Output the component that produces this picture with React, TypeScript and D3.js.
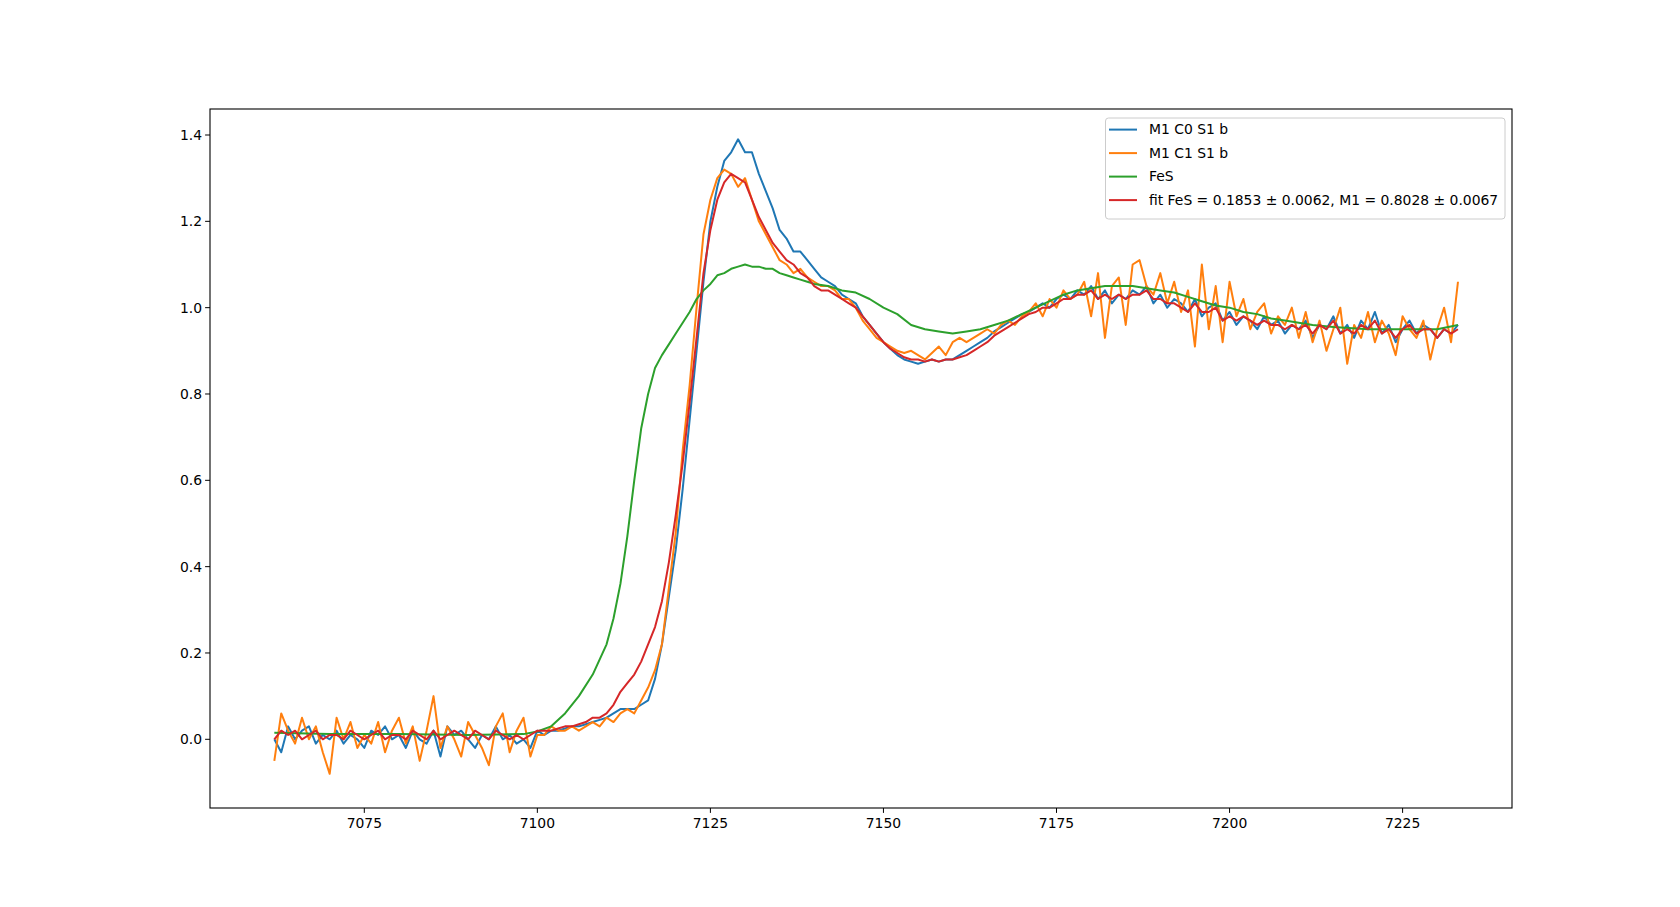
import * as d3 from "d3";
import React from "react";

const E0 = 7062;

const blue = [
  0.00,-0.03,0.03,0.00,0.02,0.03,-0.01,0.01,0.00,0.02,-0.01,0.01,0.00,-0.02,0.02,0.01,0.03,0.00,0.01,-0.02,
  0.02,0.00,-0.01,0.02,-0.04,0.03,0.01,0.02,0.00,-0.02,0.01,0.00,0.03,0.00,0.01,-0.01,0.00,-0.02,0.02,
  0.01,0.02,0.02,0.025,0.03,0.03,0.035,0.04,0.045,0.05,0.06,0.07,0.07,0.07,0.08,0.09,
  0.14,0.22,0.33,0.44,0.58,0.74,0.9,1.06,1.2,1.28,1.34,1.36,1.39,1.36,1.36,1.31,1.27,1.23,1.18,1.16,
  1.13,1.13,1.11,1.09,1.07,1.06,1.05,1.03,1.02,1.01,0.98,0.96,0.94,0.92,0.905,0.89,0.88,0.875,0.87,0.875,
  0.88,0.875,0.88,0.88,0.89,0.9,0.91,0.92,0.93,0.945,0.955,0.965,0.975,0.985,
  0.99,1.00,1.01,1.00,1.02,1.03,1.02,1.04,1.03,1.05,1.02,1.04,1.01,1.03,1.02,1.04,1.03,1.05,1.01,1.03,
  1.00,1.02,1.01,0.99,1.02,0.98,1.00,1.01,0.97,0.99,0.96,0.98,0.97,0.95,0.98,0.96,0.97,0.94,0.96,0.95,
  0.97,0.93,0.96,0.95,0.98,0.94,0.96,0.93,0.97,0.95,0.99,0.94,0.96,0.92,0.95,0.97,0.94,0.96,0.95,0.93,
  0.95,0.94,0.96,
];

const orange = [
  -0.05,0.06,0.02,-0.01,0.05,0.00,0.03,-0.03,-0.08,0.05,0.00,0.04,-0.02,0.01,-0.01,0.04,-0.03,0.02,0.05,-0.01,
  0.03,-0.05,0.02,0.10,-0.02,0.03,0.00,-0.04,0.04,0.01,-0.02,-0.06,0.03,0.06,-0.03,0.02,0.05,-0.04,0.01,
  0.01,0.03,0.02,0.02,0.03,0.02,0.03,0.04,0.03,0.05,0.04,0.06,0.07,0.06,0.09,
  0.12,0.16,0.22,0.35,0.48,0.67,0.82,1.00,1.17,1.25,1.30,1.32,1.31,1.28,1.30,1.25,1.20,1.17,1.14,1.11,
  1.10,1.08,1.09,1.07,1.06,
  1.05,1.05,1.04,1.02,1.02,1.00,0.97,0.95,0.93,0.92,0.91,0.90,0.895,0.90,0.89,0.88,0.895,0.91,0.89,0.92,
  0.93,0.92,0.93,0.94,0.95,0.94,0.96,0.97,0.96,0.98,
  0.99,1.01,0.98,1.02,1.00,1.04,1.02,1.03,1.06,0.98,1.08,0.93,1.05,1.07,0.96,1.10,1.11,1.05,1.03,1.08,
  1.01,1.06,0.99,1.04,0.91,1.10,0.95,1.05,0.92,1.06,0.98,1.02,0.95,0.99,1.01,0.94,0.98,0.96,1.00,0.93,
  0.99,0.92,0.97,0.90,0.95,1.00,0.87,0.96,0.93,0.99,0.92,0.97,0.94,0.89,0.98,0.95,0.93,0.97,0.88,0.95,
  1.00,0.92,1.06,
];

const red = [
  0.00,0.02,0.01,0.02,0.00,0.01,0.02,0.00,0.01,0.01,0.00,0.02,0.01,0.00,0.01,0.02,0.00,0.01,0.01,0.00,
  0.02,0.01,0.00,0.02,0.00,0.01,0.02,0.01,0.00,0.02,0.01,0.00,0.02,0.01,0.00,0.01,0.00,0.01,0.02,
  0.02,0.02,0.025,0.03,0.03,0.035,0.04,0.05,0.05,
  0.06,0.08,0.11,0.13,0.15,0.18,0.22,0.26,0.32,0.41,0.52,0.64,0.78,0.93,1.08,1.18,1.25,1.29,1.31,1.30,
  1.29,1.25,1.21,1.18,1.15,1.13,1.11,1.10,1.08,1.07,1.05,
  1.04,1.04,1.03,1.02,1.01,1.00,0.98,0.96,0.94,0.92,0.905,0.895,0.885,0.88,0.88,0.875,0.88,0.875,0.88,0.88,
  0.885,0.89,0.90,0.91,0.92,0.935,0.945,0.955,0.965,0.975,
  0.985,0.99,1.00,1.00,1.01,1.02,1.02,1.03,1.03,1.04,1.02,1.03,1.02,1.03,1.02,1.03,1.03,1.04,1.02,1.02,
  1.01,1.01,1.00,0.99,1.01,0.99,0.99,1.00,0.97,0.98,0.97,0.98,0.97,0.96,0.97,0.96,0.96,0.95,0.96,0.95,
  0.96,0.94,0.96,0.95,0.97,0.94,0.95,0.94,0.96,0.95,0.97,0.94,0.95,0.93,0.95,0.96,0.94,0.95,0.95,0.93,
  0.95,0.94,0.95,
];

const fesE = [7062,7070,7080,7090,7098,7100,7102,7104,7106,7108,7110,7111,7112,7113,7114,7115,7116,7117,7118,7119,
  7120,7121,7122,7123,7124,7125,7126,7127,7128,7129,7130,7131,7132,7133,7134,7135,7136,7137,7138,7139,7140,
  7142,7144,7146,7148,7150,7152,7154,7156,7158,7160,7162,7164,7166,7168,7170,7172,7174,7176,7178,7180,7182,
  7184,7186,7188,7190,7192,7194,7196,7198,7200,7202,7204,7206,7208,7210,7212,7215,7220,7225,7230,7233];
const fesV = [0.015,0.012,0.012,0.01,0.012,0.018,0.03,0.06,0.1,0.15,0.22,0.28,0.36,0.47,0.6,0.72,0.8,0.86,0.89,0.915,
  0.94,0.965,0.99,1.02,1.04,1.055,1.075,1.08,1.09,1.095,1.1,1.095,1.095,1.09,1.09,1.08,1.075,1.07,1.065,1.06,1.055,
  1.05,1.04,1.035,1.02,1.0,0.985,0.96,0.95,0.945,0.94,0.945,0.95,0.96,0.97,0.985,1.0,1.015,1.03,1.04,1.045,1.05,
  1.05,1.05,1.045,1.04,1.035,1.025,1.015,1.005,1.0,0.99,0.985,0.975,0.97,0.965,0.96,0.955,0.95,0.95,0.95,0.96];

const xTicks = [7075, 7100, 7125, 7150, 7175, 7200, 7225];
const yTicks = [0.0, 0.2, 0.4, 0.6, 0.8, 1.0, 1.2, 1.4];
const legendLabels = ["M1 C0 S1 b", "M1 C1 S1 b", "FeS", "fit FeS = 0.1853 ± 0.0062, M1 = 0.8028 ± 0.0067"];
const colors = ["#1f77b4", "#ff7f0e", "#2ca02c", "#d62728"];

const W = 1680, H = 907;
const L = 210, R = 1512, T = 109, B = 808;

export default function App() {
  const x = d3.scaleLinear([7075, 7225], [364.3, 1402.6]);
  const y = d3.scaleLinear([0, 1.4], [739.3, 135]);
  const line = d3.line<[number, number]>().x((d) => x(d[0])).y((d) => y(d[1]));
  const toPts = (vals: number[]) => vals.map((v, i) => [E0 + i, v] as [number, number]);
  const series = [toPts(blue), toPts(orange), fesE.map((e, i) => [e, fesV[i]] as [number, number]), toPts(red)];
  const font = "DejaVu Sans, sans-serif";
  return (
    <svg width={W} height={H} style={{ position: "absolute", left: 0, top: 0, background: "#fff" }} fontFamily={font}>
      <defs>
        <clipPath id="c"><rect x={L} y={T} width={R - L} height={B - T} /></clipPath>
      </defs>
      <g clipPath="url(#c)" fill="none" strokeWidth={2}>
        {series.map((s, i) => (
          <path key={i} d={line(s)!} stroke={colors[i]} strokeLinejoin="round" />
        ))}
      </g>
      <rect x={L} y={T} width={R - L} height={B - T} fill="none" stroke="#000" strokeWidth={1.1} />
      {xTicks.map((t) => (
        <g key={t} transform={`translate(${x(t)},${B})`}>
          <line y2={4.9} stroke="#000" />
          <text y={20} textAnchor="middle" fontSize={13.9}>{t}</text>
        </g>
      ))}
      {yTicks.map((t) => (
        <g key={t} transform={`translate(${L},${y(t)})`}>
          <line x2={-4.9} stroke="#000" />
          <text x={-8} dy="0.35em" textAnchor="end" fontSize={13.9}>{t.toFixed(1)}</text>
        </g>
      ))}
      <g>
        <rect x={1105.5} y={118} width={399.5} height={101} rx={3} fill="#fff" fillOpacity={0.8} stroke="#ccc" />
        {legendLabels.map((l, i) => (
          <g key={l} transform={`translate(1109,${129.6 + i * 23.5})`}>
            <line x2={28} stroke={colors[i]} strokeWidth={2} />
            <text x={40} dy="0.35em" fontSize={13.9}>{l}</text>
          </g>
        ))}
      </g>
    </svg>
  );
}
